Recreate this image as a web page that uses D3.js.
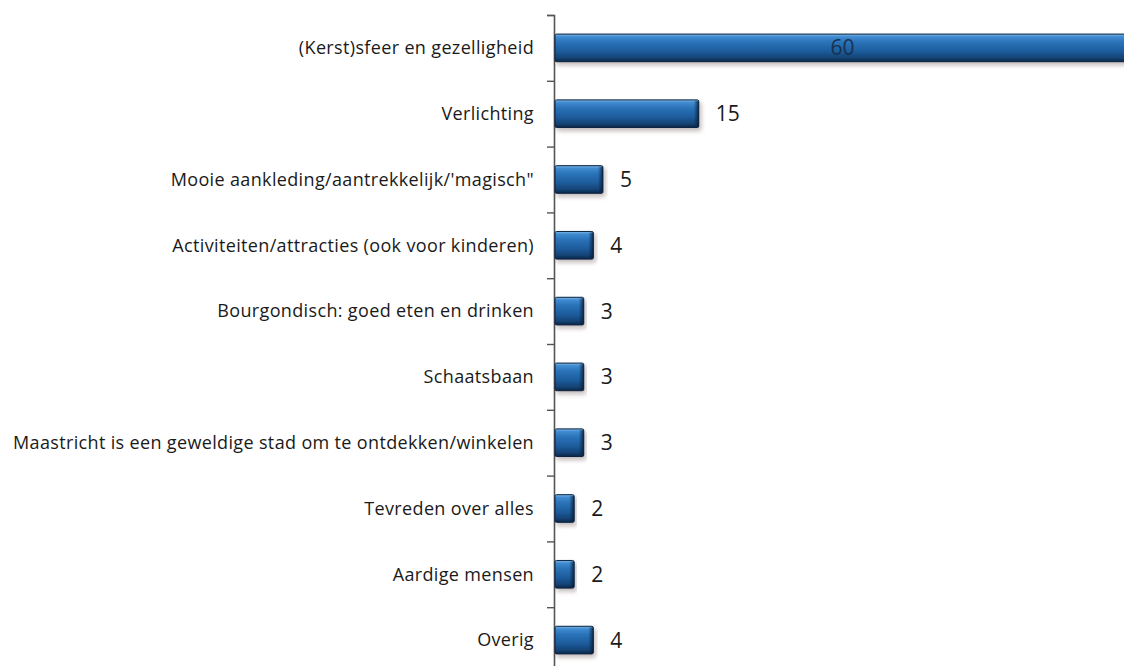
<!DOCTYPE html>
<html>
<head>
<meta charset="utf-8">
<script src="https://cdn.jsdelivr.net/npm/d3@7"></script>
<style>
  html, body { margin: 0; padding: 0; background: #fff; overflow: hidden; }
  svg { display: block; }
</style>
</head>
<body>
<svg id="chart" width="1124" height="666"></svg>
<script>
// Categories (top to bottom) and their counts
const categories = [
  "(Kerst)sfeer en gezelligheid",
  "Verlichting",
  "Mooie aankleding/aantrekkelijk/'magisch\"",
  "Activiteiten/attracties (ook voor kinderen)",
  "Bourgondisch: goed eten en drinken",
  "Schaatsbaan",
  "Maastricht is een geweldige stad om te ontdekken/winkelen",
  "Tevreden over alles",
  "Aardige mensen",
  "Overig"
];
const values = [60, 15, 5, 4, 3, 3, 3, 2, 2, 4];
const valueLabels = ["60", "15", "5", "4", "3", "3", "3", "2", "2", "4"];

const svg = d3.select("#chart");
const axisX = 554;

// The longest bar runs past the right edge of the drawing
const x = d3.scaleLinear().domain([0, 60]).range([axisX + 1, 1130]);
const y = d3.scaleBand().domain(categories).range([15, 673])
  .paddingInner(0.58).paddingOuter(0.29);
const yTicks = d3.scaleLinear().domain([0, categories.length]).range([15, 673]);

// Bevelled bar look: vertical gradient plus soft drop shadow
const defs = svg.append("defs");
const grad = defs.append("linearGradient").attr("id", "barGrad")
  .attr("x1", 0).attr("y1", 0).attr("x2", 0).attr("y2", 1);
[[0, "#7fb6e6"], [0.1, "#3f8ad0"], [0.3, "#2a72b8"], [0.62, "#1d5c9c"],
 [0.86, "#144375"], [1, "#0a2747"]].forEach(([o, c]) =>
  grad.append("stop").attr("offset", o).attr("stop-color", c));
const capGrad = defs.append("linearGradient").attr("id", "capGrad")
  .attr("x1", 0).attr("y1", 0).attr("x2", 1).attr("y2", 0);
[[0, "rgba(8,30,55,0)"], [1, "rgba(8,30,55,0.85)"]].forEach(([o, c]) =>
  capGrad.append("stop").attr("offset", o).attr("stop-color", c));
const shadow = defs.append("filter").attr("id", "shadow")
  .attr("x", "-5%").attr("y", "-30%").attr("width", "115%").attr("height", "170%");
shadow.append("feDropShadow").attr("dx", 2).attr("dy", 3)
  .attr("stdDeviation", 2).attr("flood-color", "#3a1a1a").attr("flood-opacity", 0.3);

// Axis with ticks at the category boundaries
const axis = svg.append("g").attr("transform", `translate(${axisX},0)`)
  .call(d3.axisLeft(yTicks).tickValues(d3.range(0, categories.length + 1))
    .tickSize(7).tickFormat(""));
axis.select(".domain").attr("stroke", "#555").attr("stroke-width", 1.6);
axis.selectAll(".tick line").attr("stroke", "#555").attr("stroke-width", 1.4);

// Category labels
svg.append("g").selectAll("text").data(categories).join("text")
  .attr("x", 534)
  .attr("y", d => y(d) + y.bandwidth() / 2)
  .attr("dy", "0.35em")
  .attr("text-anchor", "end")
  .attr("font-family", "'Open Sans', sans-serif")
  .attr("font-size", 18)
  .attr("letter-spacing", 0.35)
  .attr("fill", "#1a1a1a")
  .text(d => d);

// Bars
const bars = svg.append("g").selectAll("g").data(categories).join("g");
bars.append("rect")
  .attr("x", x(0))
  .attr("y", d => y(d))
  .attr("width", (d, i) => x(values[i]) - x(0))
  .attr("height", y.bandwidth())
  .attr("rx", 1.5)
  .attr("fill", "url(#barGrad)")
  .attr("stroke", "#0b2340")
  .attr("stroke-width", 1)
  .attr("filter", "url(#shadow)");
bars.append("rect")
  .attr("x", (d, i) => x(values[i]) - 5)
  .attr("y", d => y(d) + 1)
  .attr("width", 5)
  .attr("height", y.bandwidth() - 2)
  .attr("fill", "url(#capGrad)");

// Value labels: centred inside the long bar, to the right of the others
svg.append("g").selectAll("text").data(categories).join("text")
  .attr("x", (d, i) => values[i] >= 30 ? (x(0) + x(values[i])) / 2 : x(values[i]) + 17)
  .attr("y", d => y(d) + y.bandwidth() / 2)
  .attr("dy", "0.36em")
  .attr("text-anchor", (d, i) => values[i] >= 30 ? "middle" : "start")
  .attr("font-family", "'Open Sans', sans-serif")
  .attr("font-size", 21)
  .attr("fill", (d, i) => values[i] >= 30 ? "#17324f" : "#1a1a1a")
  .text((d, i) => valueLabels[i]);
</script>
</body>
</html>
